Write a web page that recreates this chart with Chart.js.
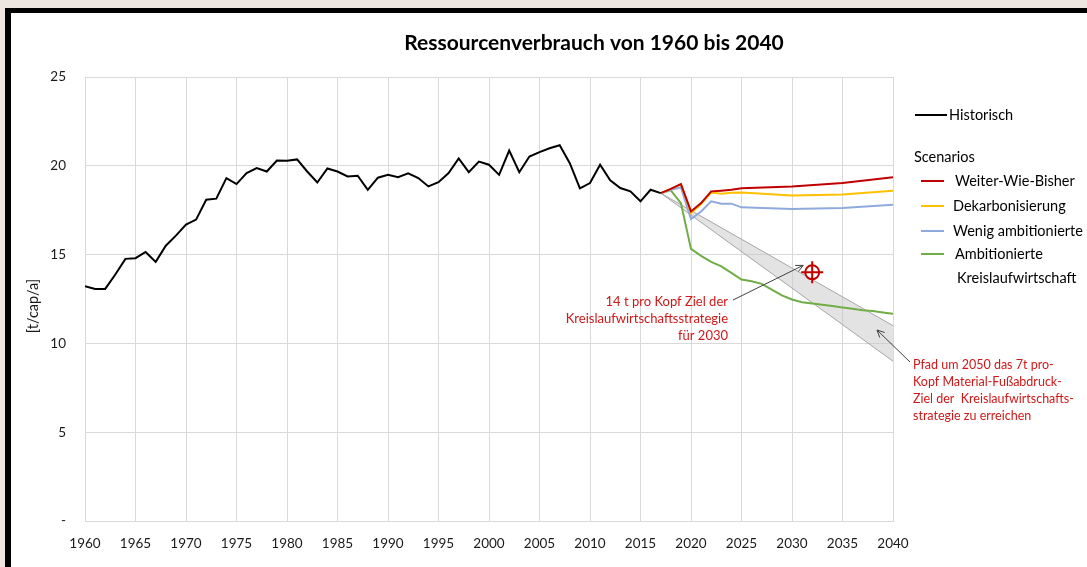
<!DOCTYPE html>
<html lang="de">
<head>
<meta charset="utf-8">
<title>Ressourcenverbrauch von 1960 bis 2040</title>
<script src="https://cdn.jsdelivr.net/npm/chart.js@4/dist/chart.umd.min.js"></script>
<style>
  html, body { margin: 0; padding: 0; background: #ede5df; overflow: hidden; }
  #frame {
    position: absolute; left: 5px; top: 8px; right: 0; bottom: 0;
    border-top: 5px solid #000; border-left: 6px solid #000; background: #fff;
  }
  #chart { position: absolute; left: 0; top: 0; }
</style>
</head>
<body>
<div id="frame"><canvas id="chart" width="1076" height="554"></canvas></div>
<script>
// Historic data (t/cap/a)
const histYears = [1960,1961,1962,1963,1964,1965,1966,1967,1968,1969,
  1970,1971,1972,1973,1974,1975,1976,1977,1978,1979,
  1980,1981,1982,1983,1984,1985,1986,1987,1988,1989,
  1990,1991,1992,1993,1994,1995,1996,1997,1998,1999,
  2000,2001,2002,2003,2004,2005,2006,2007,2008,2009,
  2010,2011,2012,2013,2014,2015,2016,2017];
const histValues = [13.22,13.07,13.07,13.88,14.76,14.80,15.15,14.59,15.50,16.07,
  16.69,16.97,18.09,18.15,19.31,18.97,19.59,19.87,19.68,20.30,
  20.28,20.36,19.68,19.06,19.85,19.68,19.40,19.44,18.65,19.33,
  19.49,19.36,19.57,19.31,18.84,19.08,19.59,20.41,19.64,20.24,
  20.06,19.49,20.86,19.64,20.52,20.77,20.99,21.16,20.15,18.73,
  19.03,20.06,19.18,18.75,18.56,18.00,18.65,18.46];

// Scenarios
const scenYears = [2017,2018,2019,2020,2021,2022,2023,2024,2025,2030,2035,2040];
const weiterWieBisher = [18.46,18.70,18.97,17.43,17.90,18.56,18.60,18.65,18.74,18.84,19.03,19.36];
const dekarbonisierung = [18.46,18.70,18.97,17.34,17.85,18.50,18.43,18.48,18.50,18.33,18.39,18.60];
const wenigAmbitioniert = [18.46,18.65,18.78,17.00,17.43,18.00,17.87,17.87,17.66,17.57,17.62,17.81];

const kreislaufYears = [2017,2018,2019,2020,2021,2022,2023,2024,2025,2026,2027,2028,
  2029,2030,2031,2032,2033,2034,2035,2036,2037,2038,2039,2040];
const kreislaufValues = [18.46,18.62,17.90,15.32,14.93,14.59,14.34,13.97,13.60,13.50,13.35,13.03,
  12.70,12.47,12.32,12.25,12.17,12.10,12.02,11.95,11.87,11.82,11.74,11.67];

// Corridor towards 7 t in 2050
const pathYears = [2017, 2040];
const pathUpper = [18.46, 11.0];
const pathLower = [18.46, 9.0];

// Target 14 t per capita
const targetPoint = { year: 2032, value: 14 };

const pts = (xs, ys) => xs.map((x, i) => ({ x: x, y: ys[i] }));

const FONT = "Lato, 'Open Sans', sans-serif";
const RED_TXT = "#d01818";

function arrow(ctx, x1, y1, x2, y2) {
  ctx.beginPath();
  ctx.moveTo(x1, y1);
  ctx.lineTo(x2, y2);
  const a = Math.atan2(y2 - y1, x2 - x1);
  const L = 8;
  ctx.moveTo(x2 - L * Math.cos(a - 0.45), y2 - L * Math.sin(a - 0.45));
  ctx.lineTo(x2, y2);
  ctx.lineTo(x2 - L * Math.cos(a + 0.45), y2 - L * Math.sin(a + 0.45));
  ctx.stroke();
}

const decor = {
  id: "decor",
  afterDraw(chart) {
    const ctx = chart.ctx;
    const xs = chart.scales.x, ys = chart.scales.y;
    ctx.save();

    // title
    ctx.fillStyle = "#000";
    ctx.font = "bold 21px " + FONT;
    ctx.textAlign = "center";
    ctx.textBaseline = "middle";
    ctx.fillText("Ressourcenverbrauch von 1960 bis 2040", 583, 30);

    // y axis title
    ctx.save();
    ctx.translate(22, 293);
    ctx.rotate(-Math.PI / 2);
    ctx.font = "14.5px " + FONT;
    ctx.fillStyle = "#1a1a1a";
    ctx.fillText("[t/cap/a]", 0, 0);
    ctx.restore();

    // legend
    ctx.textAlign = "left";
    ctx.font = "14.5px " + FONT;
    ctx.fillStyle = "#000";
    ctx.lineWidth = 2;
    const legendLine = (x1, x2, y, color) => {
      ctx.strokeStyle = color;
      ctx.beginPath(); ctx.moveTo(x1, y); ctx.lineTo(x2, y); ctx.stroke();
    };
    legendLine(904, 936, 102, "#000");
    ctx.fillText("Historisch", 938, 102);
    ctx.fillText("Scenarios", 903, 144);
    legendLine(910, 933, 168, "#c00000");
    ctx.fillText("Weiter-Wie-Bisher", 944, 168);
    legendLine(910, 933, 193, "#ffc000");
    ctx.fillText("Dekarbonisierung", 942, 193);
    legendLine(910, 933, 218, "#8faadc");
    ctx.fillText("Wenig ambitionierte", 942, 218);
    legendLine(910, 933, 241, "#70ad47");
    ctx.fillText("Ambitionierte", 944, 241);
    ctx.fillText("Kreislaufwirtschaft", 946, 265);

    // target crosshair
    const cx = xs.getPixelForValue(targetPoint.year);
    const cy = ys.getPixelForValue(targetPoint.value);
    ctx.strokeStyle = "#c00000";
    ctx.lineWidth = 2;
    ctx.beginPath(); ctx.arc(cx, cy, 7, 0, Math.PI * 2); ctx.stroke();
    ctx.beginPath();
    ctx.moveTo(cx - 11, cy); ctx.lineTo(cx + 11, cy);
    ctx.moveTo(cx, cy - 11); ctx.lineTo(cx, cy + 11);
    ctx.stroke();

    // annotation arrows
    ctx.strokeStyle = "#404040";
    ctx.lineWidth = 1;
    arrow(ctx, 722, 287, cx - 9, cy - 7);
    arrow(ctx, 899, 349, 866, 317);

    // annotation texts
    ctx.fillStyle = RED_TXT;
    ctx.font = "13px " + FONT;
    ctx.textAlign = "right";
    ctx.fillText("14 t pro Kopf Ziel der", 717, 289);
    ctx.fillText("Kreislaufwirtschaftsstrategie", 717, 306);
    ctx.fillText("für 2030", 717, 323);

    ctx.textAlign = "left";
    ctx.font = "12.5px " + FONT;
    ctx.fillText("Pfad um 2050 das 7t pro-", 902, 352);
    ctx.fillText("Kopf Material-Fußabdruck-", 902, 369);
    ctx.fillText("Ziel der  Kreislaufwirtschafts-", 902, 386);
    ctx.fillText("strategie zu erreichen", 902, 403);

    ctx.restore();
  }
};

const lineDs = (label, data, color) => ({
  label: label, data: data, borderColor: color, backgroundColor: color,
  borderWidth: 2, pointRadius: 0, tension: 0, fill: false
});

new Chart(document.getElementById("chart"), {
  type: "line",
  data: {
    datasets: [
      lineDs("Historisch", pts(histYears, histValues), "#000"),
      lineDs("Weiter-Wie-Bisher", pts(scenYears, weiterWieBisher), "#c00000"),
      lineDs("Dekarbonisierung", pts(scenYears, dekarbonisierung), "#ffc000"),
      lineDs("Wenig ambitionierte", pts(scenYears, wenigAmbitioniert), "#8faadc"),
      lineDs("Ambitionierte Kreislaufwirtschaft", pts(kreislaufYears, kreislaufValues), "#70ad47"),
      {
        label: "Pfad oben", data: pts(pathYears, pathUpper),
        borderColor: "#a6a6a6", borderWidth: 1, pointRadius: 0, fill: false
      },
      {
        label: "Pfad unten", data: pts(pathYears, pathLower),
        borderColor: "#a6a6a6", borderWidth: 1, pointRadius: 0,
        fill: "-1", backgroundColor: "rgba(200,200,200,0.5)"
      }
    ]
  },
  options: {
    responsive: false,
    animation: false,
    devicePixelRatio: 1,
    layout: { padding: { left: 0, top: 64, right: 194, bottom: 0 } },
    plugins: {
      legend: { display: false },
      title: { display: false },
      tooltip: { enabled: false }
    },
    scales: {
      x: {
        type: "linear", min: 1960, max: 2040,
        afterFit: s => { s.height = 46; },
        grid: { color: "#d9d9d9", drawTicks: false },
        border: { color: "#d9d9d9" },
        ticks: {
          stepSize: 5, padding: 15, color: "#1a1a1a",
          font: { family: FONT, size: 13.5 },
          callback: v => String(v)
        }
      },
      y: {
        min: 0, max: 25,
        afterFit: s => { s.width = 74; },
        grid: { color: "#d9d9d9", drawTicks: false },
        border: { color: "#d9d9d9" },
        ticks: {
          stepSize: 5, padding: 19, color: "#1a1a1a",
          font: { family: FONT, size: 13.5 },
          callback: v => (v === 0 ? "-" : String(v))
        }
      }
    }
  },
  plugins: [decor]
});
</script>
</body>
</html>
